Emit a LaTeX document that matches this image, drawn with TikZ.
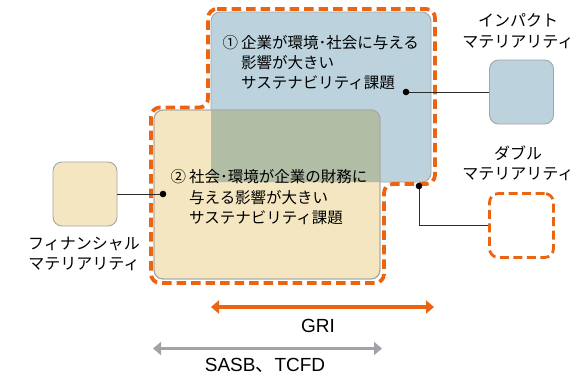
\documentclass[tikz,border=0pt]{standalone}
\usepackage{fontspec}
\setmainfont{Noto Sans CJK JP}
\newfontfamily\latfont{Liberation Sans}
\usetikzlibrary{arrows.meta}
\definecolor{bluefill}{RGB}{188,211,222}
\definecolor{yellowfill}{RGB}{243,230,192}
\definecolor{overlapfill}{RGB}{177,189,165}
\definecolor{bordergray}{RGB}{165,165,165}
\definecolor{orangec}{RGB}{234,100,18}
\definecolor{arrowgray}{RGB}{160,163,168}
\definecolor{linec}{RGB}{45,45,45}
\begin{document}
\begin{tikzpicture}[x=1pt,y=-1pt,
  bigbox/.style={draw=bordergray, line width=0.9pt, rounded corners=9pt, inner sep=0pt},
  smallbox/.style={draw=bordergray, line width=0.9pt, rounded corners=9pt, inner sep=0pt, minimum width=64pt, minimum height=64pt},
  outlinedash/.style={draw=orangec, line width=3.8pt, dash pattern=on 9.5pt off 5pt, rounded corners=9pt},
  smalldash/.style={draw=orangec, line width=2.8pt, dash pattern=on 9pt off 4.5pt, rounded corners=9pt, inner sep=0pt, minimum width=64pt, minimum height=64pt},
  maintext/.style={font=\fontsize{15.5}{20}\selectfont, anchor=base west, inner sep=0pt},
  label/.style={font=\fontsize{16}{20.5}\selectfont, align=center, inner sep=0pt},
  conn/.style={draw=linec, line width=1pt},
  dotc/.style={fill=black},
  rangearrow/.style={line width=3.3pt, {Triangle[length=8pt,width=13pt]}-{Triangle[length=8pt,width=13pt]}},
  latlabel/.style={font=\latfont\fontsize{19}{22}\selectfont, anchor=base, inner sep=0pt}
]
\useasboundingbox (0,0) rectangle (588,375);

% big boxes
\node[bigbox, fill=bluefill, minimum width=220pt, minimum height=170pt] (impactset) at (321,97) {};
\node[bigbox, fill=yellowfill, minimum width=226pt, minimum height=169pt] (finset) at (267,194.5) {};
\begin{scope}
  \clip[rounded corners=9pt] (154,110) rectangle (380,279);
  \fill[overlapfill, rounded corners=9pt] (211,12) rectangle (431,182);
\end{scope}
\draw[draw=bordergray, line width=0.9pt, rounded corners=9pt] (154,110) rectangle (380,279);

% union dashed outline
\draw[outlinedash] (208,9) -- (435,9) -- (435,184) -- (384,184) -- (384,283) -- (151,283) -- (151,107.5) -- (208,107.5) -- cycle;

% texts in boxes
\node[maintext] (t1a) at (241,48.5) {\llap{①\hspace{3pt}}企業が環境･社会に与える};
\node[maintext] (t1b) at (241,68.5) {影響が大きい};
\node[maintext] (t1c) at (241,88.5) {サステナビリティ課題};
\node[maintext] (t2a) at (189,182) {\llap{②\hspace{3pt}}社会･環境が企業の財務に};
\node[maintext] (t2b) at (189,203) {与える影響が大きい};
\node[maintext] (t2c) at (189,223.5) {サステナビリティ課題};

% small boxes
\node[smallbox, fill=bluefill] (impact) at (521.5,92) {};
\node[smalldash] (double) at (521.5,225.5) {};
\node[smallbox, fill=yellowfill] (fin) at (85,194) {};

% labels
\node[label] (limpact) at (518,31) {インパクト\\マテリアリティ};
\node[label] (ldouble) at (518,163.5) {ダブル\\マテリアリティ};
\node[label] (lfin) at (84,254) {フィナンシャル\\マテリアリティ};

% connectors
\coordinate (d1) at (406,92);
\coordinate (d2) at (419,186);
\coordinate (d3) at (163,194);
\draw[conn] (d1) -- (impact.west);
\draw[conn] (d2) |- (double.west);
\draw[conn] (d3) -- (fin.east);
\fill[dotc] (d1) circle (3.3pt);
\fill[dotc] (d2) circle (3.3pt);
\fill[dotc] (d3) circle (3.3pt);

% range arrows
\coordinate (g1) at (211,307);
\coordinate (g2) at (434,307);
\coordinate (s1) at (153,348.5);
\coordinate (s2) at (382,348.5);
\draw[rangearrow, orangec] (g1) -- (g2);
\draw[rangearrow, arrowgray] (s1) -- (s2);
\node[latlabel] (gri) at (318,332.5) {GRI};
\node[latlabel] (sasb) at (265,371.5) {SASB{\fontspec{Noto Sans CJK JP}、}TCFD};
\end{tikzpicture}
\end{document}
